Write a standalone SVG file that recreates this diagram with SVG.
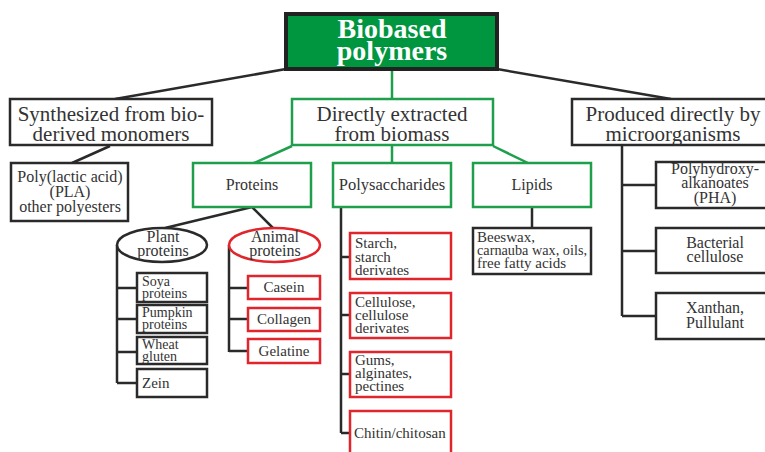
<svg xmlns="http://www.w3.org/2000/svg" width="765" height="452" viewBox="0 0 765 452">
<style>
text{font-family:"Liberation Serif","Times New Roman",serif;fill:#333}
.k{fill:#fff;stroke:#2a2a2a;stroke-width:2.5}
.g{fill:#fff;stroke:#1f9e4c;stroke-width:2.5}
.r{fill:#fff;stroke:#e0262c;stroke-width:2.5}
.lk{fill:none;stroke:#2a2a2a;stroke-width:2.5}
.lg{fill:none;stroke:#1f9e4c;stroke-width:2.5}
.t21{font-size:21px;text-anchor:middle}
.t16{font-size:16px;text-anchor:middle}
.t15{font-size:15px}
.t14{font-size:14px}
.c{text-anchor:middle}
</style>
<rect width="765" height="452" fill="#fff"/>
<g id="connectors">
<path class="lk" d="M286,69 L115,99 M497,69 L671,99 M110,146 L72,163 M252,207 L165,228 M252,207 L273,228 M117,245 V383 M117,288 H137 M117,319 H137 M117,352 H137 M117,383 H137 M229,245 V352 M229,288 H248 M229,319 H248 M229,351 H248 M341,207 V433 M341,257 H350 M341,315 H350 M341,374 H350 M341,433 H350 M532,207 V228 M622,146 V316 M622,185 H656 M622,251 H656 M622,316 H656"/>
<path class="lg" d="M392,69 V99 M292,146 L254,163 M392,146 V163 M493,146 L528,163"/>
</g>
<g id="root">
<rect x="286" y="14" width="211" height="55" fill="#00963f" stroke="#222" stroke-width="4"/>
<text x="392" y="38" font-size="28" font-weight="bold" text-anchor="middle" style="fill:#fff">Biobased</text>
<text x="392" y="60" font-size="28" font-weight="bold" text-anchor="middle" style="fill:#fff">polymers</text>
</g>
<g id="synth">
<rect class="k" x="10" y="99" width="202" height="46"/>
<text class="t21" x="111" y="121">Synthesized from bio-</text>
<text class="t21" x="111" y="141">derived monomers</text>
</g>
<g id="extracted">
<rect class="g" x="292" y="99" width="201" height="46"/>
<text class="t21" x="392" y="121">Directly extracted</text>
<text class="t21" x="392" y="141">from biomass</text>
</g>
<g id="micro">
<rect class="k" x="572" y="99" width="205" height="46"/>
<text class="t21" x="673" y="121">Produced directly by</text>
<text class="t21" x="673" y="141">microorganisms</text>
</g>
<g id="pla">
<rect class="k" x="11" y="163" width="117" height="58"/>
<text class="t16" x="70" y="182">Poly(lactic acid)</text>
<text class="t16" x="70" y="197">(PLA)</text>
<text class="t16" x="70" y="212">other polyesters</text>
</g>
<g id="proteins">
<rect class="g" x="193" y="163" width="118" height="44"/>
<text class="t16" x="252" y="190">Proteins</text>
</g>
<g id="polysaccharides">
<rect class="g" x="333" y="163" width="118" height="44"/>
<text class="t16" x="392" y="190" style="font-size:16.5px">Polysaccharides</text>
</g>
<g id="lipids">
<rect class="g" x="473" y="163" width="118" height="44"/>
<text class="t16" x="532" y="190">Lipids</text>
</g>
<g id="plant">
<ellipse class="k" cx="162" cy="245" rx="45" ry="17"/>
<text class="t16" x="163" y="242">Plant</text>
<text class="t16" x="163" y="256">proteins</text>
</g>
<g id="animal">
<ellipse class="r" cx="274.5" cy="245" rx="45.5" ry="17"/>
<text class="t16" x="275" y="242">Animal</text>
<text class="t16" x="275" y="256">proteins</text>
</g>
<g id="soya">
<rect class="k" x="137" y="273" width="70" height="29"/>
<text class="t14" x="142" y="286">Soya</text>
<text class="t14" x="142" y="298">proteins</text>
</g>
<g id="pumpkin">
<rect class="k" x="137" y="305" width="70" height="28"/>
<text class="t14" x="142" y="317">Pumpkin</text>
<text class="t14" x="142" y="329">proteins</text>
</g>
<g id="wheat">
<rect class="k" x="137" y="337" width="70" height="27"/>
<text class="t14" x="142" y="349">Wheat</text>
<text class="t14" x="142" y="361">gluten</text>
</g>
<g id="zein">
<rect class="k" x="137" y="369" width="70" height="28"/>
<text class="t15" x="142" y="388">Zein</text>
</g>
<g id="casein">
<rect class="r" x="248" y="276" width="72" height="23"/>
<text class="t15 c" x="284" y="292">Casein</text>
</g>
<g id="collagen">
<rect class="r" x="248" y="308" width="72" height="23"/>
<text class="t15 c" x="284" y="324">Collagen</text>
</g>
<g id="gelatine">
<rect class="r" x="248" y="339" width="72" height="24"/>
<text class="t15 c" x="284" y="356">Gelatine</text>
</g>
<g id="starch">
<rect class="r" x="350" y="233" width="101" height="46"/>
<text class="t15" x="355" y="248">Starch,</text>
<text class="t15" x="355" y="261.5">starch</text>
<text class="t15" x="355" y="275">derivates</text>
</g>
<g id="cellulose">
<rect class="r" x="350" y="293" width="101" height="45"/>
<text class="t15" x="355" y="307">Cellulose,</text>
<text class="t15" x="355" y="320">cellulose</text>
<text class="t15" x="355" y="333">derivates</text>
</g>
<g id="gums">
<rect class="r" x="350" y="352" width="101" height="45"/>
<text class="t15" x="355" y="365">Gums,</text>
<text class="t15" x="355" y="378">alginates,</text>
<text class="t15" x="355" y="391">pectines</text>
</g>
<g id="chitin">
<rect class="r" x="350" y="411" width="101" height="50"/>
<text class="t15" x="354" y="438">Chitin/chitosan</text>
</g>
<g id="beeswax">
<rect class="k" x="473" y="228" width="118" height="46"/>
<text class="t15" x="477" y="242">Beeswax,</text>
<text class="t15" x="477" y="255" textLength="110" lengthAdjust="spacingAndGlyphs">carnauba wax, oils,</text>
<text class="t15" x="477" y="268">free fatty acids</text>
</g>
<g id="pha">
<rect class="k" x="656" y="162" width="120" height="46"/>
<text class="t16" x="715" y="174">Polyhydroxy-</text>
<text class="t16" x="715" y="188">alkanoates</text>
<text class="t16" x="715" y="203">(PHA)</text>
</g>
<g id="bacterial">
<rect class="k" x="656" y="228" width="120" height="45"/>
<text class="t16" x="715" y="248">Bacterial</text>
<text class="t16" x="715" y="262">cellulose</text>
</g>
<g id="xanthan">
<rect class="k" x="656" y="293" width="120" height="46"/>
<text class="t16" x="715" y="313">Xanthan,</text>
<text class="t16" x="715" y="328">Pullulant</text>
</g>
</svg>
